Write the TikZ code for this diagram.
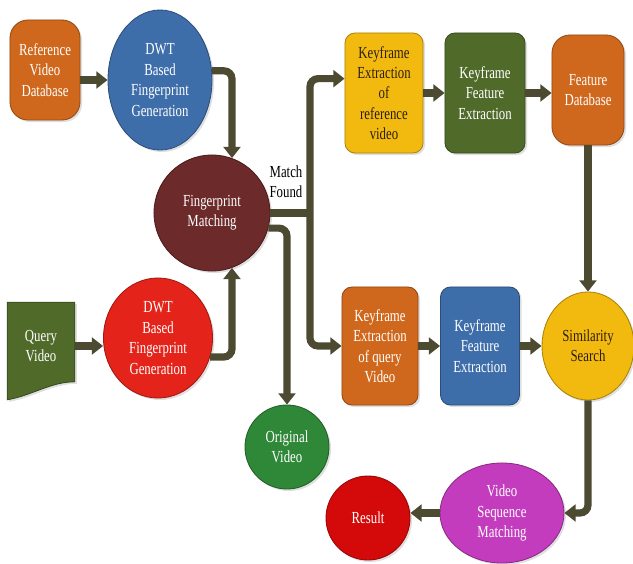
\documentclass[tikz,border=0pt]{standalone}
\usepackage{fontspec}
\setmainfont{Liberation Serif}[FakeStretch=0.76]
\usetikzlibrary{shapes.geometric,arrows.meta,shadows,backgrounds}

\definecolor{arrowcol}{RGB}{77,74,50}
\definecolor{cOrange}{RGB}{207,104,28}
\definecolor{cBlue}{RGB}{62,110,170}
\definecolor{cMaroon}{RGB}{108,42,42}
\definecolor{cOlive}{RGB}{80,106,42}
\definecolor{cRed}{RGB}{228,36,26}
\definecolor{cResult}{RGB}{212,10,10}
\definecolor{cGreen}{RGB}{46,136,56}
\definecolor{cYellow}{RGB}{242,186,14}
\definecolor{cMagenta}{RGB}{196,60,190}
\definecolor{darktext}{RGB}{45,30,20}

\tikzset{
  blk/.style={draw=#1!70!black, fill=#1, line width=0.6pt, text=white, align=center,
    inner sep=1pt, font=\fontsize{12}{14.5}\selectfont,
    drop shadow={opacity=0.25, shadow xshift=0.05cm, shadow yshift=-0.05cm}},
  rbox/.style={blk=#1, rectangle, rounded corners=0.25cm},
  dbase/.style={blk=#1, rectangle, rounded corners=0.45cm},
  oval/.style={blk=#1, ellipse},
  flowline/.style={draw=arrowcol, line width=0.18cm, rounded corners=0.2cm},
  flow/.style={flowline, -{Triangle[width=0.42cm,length=0.28cm]}},
}

\begin{document}
\begin{tikzpicture}[x=0.025cm, y=-0.025cm]
\useasboundingbox (0,0) rectangle (633,564);

% fingerprint side
\node[dbase=cOrange, minimum width=1.75cm, minimum height=2.5cm] at (45,70) (refdb) {Reference\\Video\\Database};
\node[oval=cBlue, minimum width=2.6cm, minimum height=3.5cm] at (160,80) (dwtA) {DWT\\Based\\Fingerprint\\Generation};
\node[oval=cMaroon, minimum width=2.9cm, minimum height=2.9cm] at (212,213) (fm) {Fingerprint\\Matching};
\node[text=white, align=center, inner sep=1pt, font=\fontsize{12}{14.5}\selectfont, minimum width=1.675cm, minimum height=2.175cm] at (41,346) (qv) {Query\\Video};
\node[oval=cRed, minimum width=2.725cm, minimum height=3.0cm] at (158,338) (dwtB) {DWT\\Based\\Fingerprint\\Generation};
\node[oval=cGreen, minimum width=2.1cm, minimum height=2.1cm] at (287,447) (ov) {Original\\Video};
\node[align=center, font=\fontsize{12}{14.5}\selectfont] at (286,182) (mf) {Match\\Found};

\begin{scope}[on background layer]
\fill[cOlive, draw=cOlive!70!black, line width=0.6pt, drop shadow={opacity=0.25, shadow xshift=0.05cm, shadow yshift=-0.05cm}]
  (qv.north west) -- (qv.north east) -- ([yshift=0.2cm]qv.south east)
  .. controls +(-0.6cm,0) and +(0.6cm,0.1cm) .. ([yshift=-0.25cm]qv.south west) -- cycle;
\end{scope}

% keyframe side
\node[rbox=cYellow, text=darktext, minimum width=1.95cm, minimum height=3.0cm] at (384,93) (keA) {Keyframe\\Extraction\\of\\reference\\video};
\node[rbox=cOlive, minimum width=2.0cm, minimum height=3.0cm] at (485,93) (kfA) {Keyframe\\Feature\\Extraction};
\node[dbase=cOrange, minimum width=1.8cm, minimum height=2.75cm] at (588,90) (fdb) {Feature\\Database};
\node[rbox=cOrange, minimum width=1.9cm, minimum height=2.95cm] at (380,346) (keB) {Keyframe\\Extraction\\of query\\Video};
\node[rbox=cBlue, minimum width=1.975cm, minimum height=2.95cm] at (480,346) (kfB) {Keyframe\\Feature\\Extraction};
\node[oval=cYellow, text=darktext, minimum width=2.3cm, minimum height=2.7cm] at (588,346) (ss) {Similarity\\Search};
\node[oval=cMagenta, minimum width=3.1cm, minimum height=2.5cm] at (502,513) (vsm) {Video\\Sequence\\Matching};
\node[oval=cResult, minimum width=2.1cm, minimum height=2.1cm] at (368,518) (res) {Result};

\coordinate (jn) at (310,213);

\draw[flow] (refdb.east |- dwtA.west) -- (dwtA.west);
\draw[flow] (dwtA.10) -| (fm.70);
\draw[flow] (qv.east) -- (qv.east -| dwtB.west);
\draw[flow] (dwtB.-20) -| (fm.-70);
\draw[flow] (fm.-15) -| (ov.north);
\draw[flowline] (fm.east) -- (jn);
\draw[flow] (jn) |- (keA.160);
\draw[flow] (jn) |- (keB.west);
\draw[flow] (keA.east) -- (kfA.west);
\draw[flow] (kfA.east) -- (kfA.east -| fdb.west);
\draw[flow] (fdb.south) -- (ss.north);
\draw[flow] (keB.east) -- (kfB.west);
\draw[flow] (kfB.east) -- (kfB.east -| ss.west);
\draw[flow] (ss.south) |- (vsm.east);
\draw[flow] (vsm.west) -- (vsm.west -| res.east);
\end{tikzpicture}
\end{document}
